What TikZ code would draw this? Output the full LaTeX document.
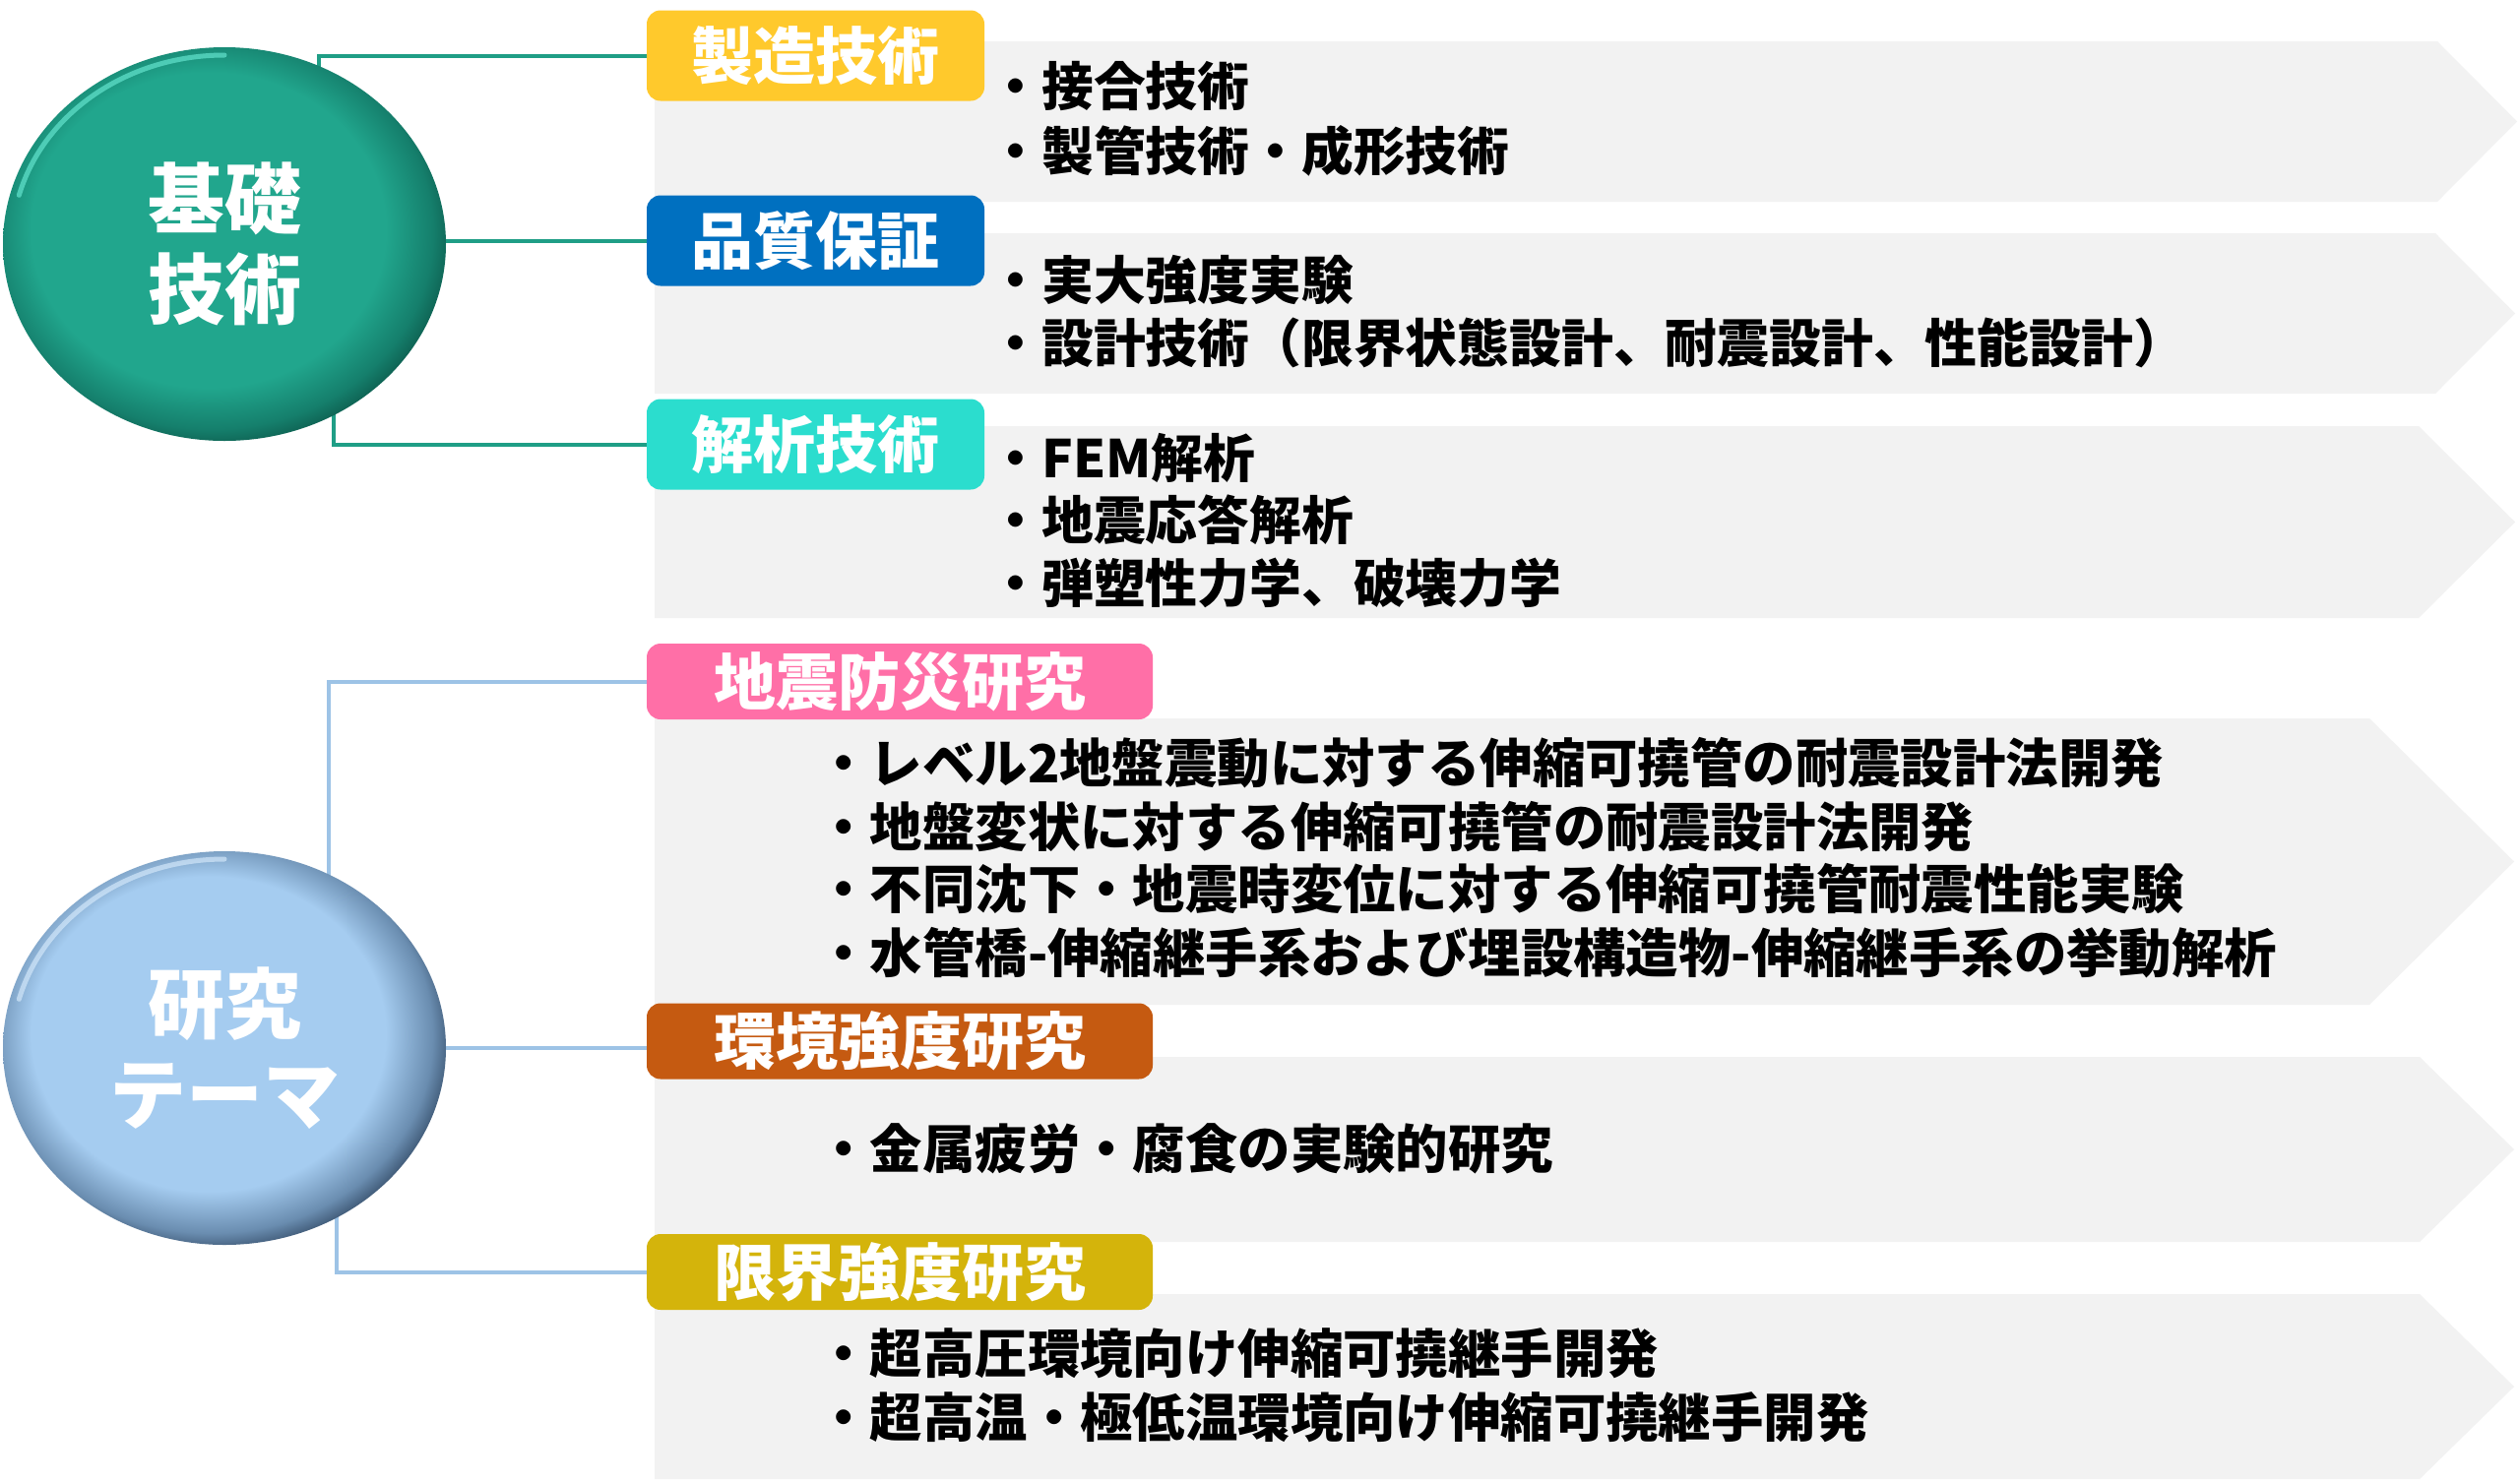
\documentclass[tikz,border=0pt]{standalone}
\usepackage{fontspec}
\newfontfamily\jp{Noto Sans CJK JP}
\usetikzlibrary{shapes.geometric}
\definecolor{bandgray}{HTML}{F2F2F2}
\definecolor{tealmain}{HTML}{21A68D}
\definecolor{tealdark}{HTML}{157F6C}
\definecolor{tealdeep}{HTML}{0A4F42}
\definecolor{teallight}{HTML}{6FF0DA}
\definecolor{bluemain}{HTML}{A5CCF0}
\definecolor{bluedark}{HTML}{6A8DB0}
\definecolor{bluedeep}{HTML}{22364F}
\definecolor{bluelight}{HTML}{DDEFFF}
\definecolor{connteal}{HTML}{1F9E86}
\definecolor{connblue}{HTML}{9DC3E6}
\definecolor{cyellow}{HTML}{FFC92C}
\definecolor{cblue}{HTML}{0070C0}
\definecolor{ccyan}{HTML}{2BDDCE}
\definecolor{cpink}{HTML}{FF6FA7}
\definecolor{corange}{HTML}{C55A11}
\definecolor{colive}{HTML}{D4B40B}
\pgfdeclareradialshading{tealball}{\pgfpoint{-3bp}{3bp}}{color(0bp)=(tealmain); color(20bp)=(tealmain); color(25bp)=(tealdark); color(28.5bp)=(tealdeep); color(50bp)=(tealdeep)}
\pgfdeclareradialshading{blueball}{\pgfpoint{-3bp}{3bp}}{color(0bp)=(bluemain); color(20bp)=(bluemain); color(25bp)=(bluedark); color(28.5bp)=(bluedeep); color(50bp)=(bluedeep)}
\pgfdeclarelayer{bgw}
\pgfdeclarelayer{back}
\pgfdeclarelayer{mid}
\pgfsetlayers{bgw,back,mid,main}
\tikzset{
  band/.style={fill=bandgray},
  hdr/.style={rounded corners=7pt, inner sep=0pt, text=white,
    font=\jp\bfseries\fontsize{31.5}{36}\selectfont},
  hdrtop/.style={hdr, minimum width=171.5pt, minimum height=46pt},
  hdrbot/.style={hdr, minimum width=257pt, minimum height=38.5pt},
  item/.style={anchor=west, inner sep=0pt, text=black,
    font=\jp\bfseries\fontsize{26.4}{32}\selectfont},
  itemb/.style={item, font=\jp\bfseries\fontsize{26.7}{32}\selectfont},
  bigell/.style={ellipse, minimum width=225pt, minimum height=200pt, inner sep=0pt,
    align=center, text=white, font=\jp\bfseries\fontsize{39}{46}\selectfont},
  gline/.style={draw=connteal, line width=2pt},
  bline/.style={draw=connblue, line width=2pt},
}
\begin{document}
\begin{tikzpicture}[x=0.5pt,y=-0.5pt]
\useasboundingbox (0,0) rectangle (2560,1506);
\begin{pgfonlayer}{bgw}
\fill[white] (0,0) rectangle (2560,1506);
\end{pgfonlayer}

% ellipses
\node[bigell, shading=tealball] (kiso) at (228,248) {基礎\\技術};
\node[bigell, shading=blueball] (ken) at (228,1065) {研究\\テーマ};
\draw[teallight, line width=2.5pt, opacity=0.6, line cap=round]
  (228,248) ++(195:216 and 192) arc[start angle=195, end angle=270, x radius=216, y radius=192];
\draw[bluelight, line width=2.5pt, opacity=0.6, line cap=round]
  (228,1065) ++(195:216 and 192) arc[start angle=195, end angle=270, x radius=216, y radius=192];

% header boxes
\node[hdrtop, fill=cyellow] (b1) at (828.5,56.5) {製造技術};
\node[hdrtop, fill=cblue] (b2) at (828.5,244.5) {品質保証};
\node[hdrtop, fill=ccyan] (b3) at (828.5,451.5) {解析技術};
\node[hdrbot, fill=cpink] (d1) at (914,692.5) {地震防災研究};
\node[hdrbot, fill=corange] (d2) at (914,1058) {環境強度研究};
\node[hdrbot, fill=colive] (d3) at (914,1292.5) {限界強度研究};

% items
\node[item] (t11) at (1005,88) {・接合技術};
\node[item] (t12) at (1005,153) {・製管技術・成形技術};
\node[item] (t21) at (1005,285) {・実大強度実験};
\node[item] (t22) at (1005,348) {・設計技術（限界状態設計、耐震設計、性能設計）};
\node[item] (t31) at (1005,465) {・FEM解析};
\node[item] (t32) at (1005,528) {・地震応答解析};
\node[item] (t33) at (1005,592) {・弾塑性力学、破壊力学};
\node[itemb] (t41) at (830,775) {・レベル2地盤震動に対する伸縮可撓管の耐震設計法開発};
\node[itemb] (t42) at (830,840) {・地盤変状に対する伸縮可撓管の耐震設計法開発};
\node[itemb] (t43) at (830,903) {・不同沈下・地震時変位に対する伸縮可撓管耐震性能実験};
\node[itemb] (t44) at (830,968) {・水管橋-伸縮継手系および埋設構造物-伸縮継手系の挙動解析};
\node[itemb] (t51) at (830,1167) {・金属疲労・腐食の実験的研究};
\node[itemb] (t61) at (830,1375) {・超高圧環境向け伸縮可撓継手開発};
\node[itemb] (t62) at (830,1440) {・超高温・極低温環境向け伸縮可撓継手開発};

\begin{pgfonlayer}{back}
\fill[band] (665,42) -- (2476,42) -- (2557,123.5) -- (2476,205) -- (665,205) -- cycle;
\fill[band] (665,237) -- (2474,237) -- (2555,318.5) -- (2474,400) -- (665,400) -- cycle;
\fill[band] (665,433) -- (2457,433) -- (2555,530.5) -- (2457,628) -- (665,628) -- cycle;
\fill[band] (665,730) -- (2407,730) -- (2554,875.5) -- (2407,1021) -- (665,1021) -- cycle;
\fill[band] (665,1074) -- (2458,1074) -- (2554,1168) -- (2458,1262) -- (665,1262) -- cycle;
\fill[band] (665,1315) -- (2458,1315) -- (2554,1409) -- (2458,1503) -- (665,1503) -- cycle;
\end{pgfonlayer}

\begin{pgfonlayer}{mid}
\coordinate (k1) at (324,150);
\coordinate (k3) at (339,350);
\coordinate (r1) at (334,950);
\coordinate (r3) at (342,1150);
\draw[gline] (b1.west) -| (k1);
\draw[gline] (b2.west) -- (b2.west -| kiso.center);
\draw[gline] (b3.west) -| (k3);
\draw[bline] (d1.west) -| (r1);
\draw[bline] (ken.center) -- (ken.center -| d2.west);
\draw[bline] (d3.west) -| (r3);
\end{pgfonlayer}
\end{tikzpicture}
\end{document}
